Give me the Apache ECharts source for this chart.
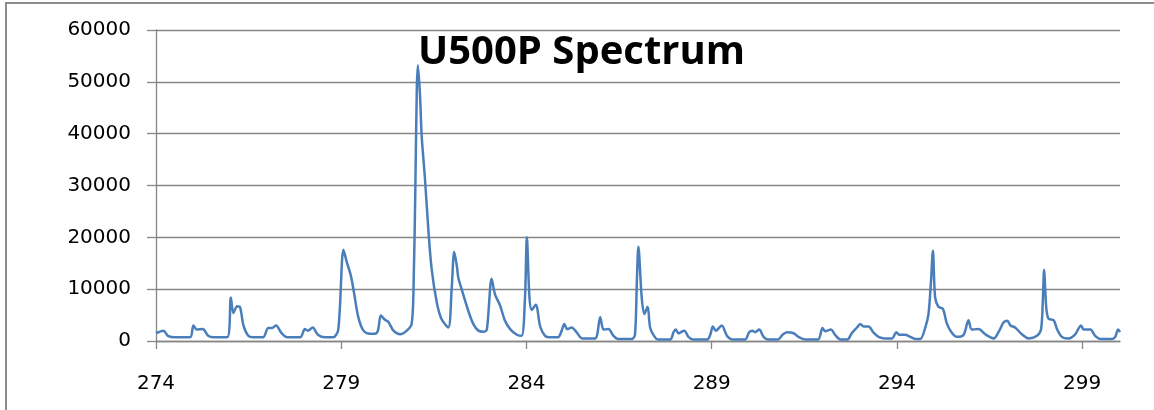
<!DOCTYPE html>
<html>
<head>
<meta charset="utf-8">
<title>U500P Spectrum</title>
<script src="https://cdn.jsdelivr.net/npm/echarts@6/dist/echarts.min.js"></script>
<style>
  html, body { margin: 0; padding: 0; background: #fff; }
  #chart { width: 1154px; height: 410px; }
</style>
</head>
<body>
<div id="chart"></div>
<script>
// Wavelength positions (nm) of the sampled spectrum
const wavelength = [
  274.00, 274.20, 274.32, 274.51, 274.92, 275.01, 275.10, 275.26, 275.41, 275.54,
  275.92, 276.02, 276.09, 276.19, 276.27, 276.36, 276.49, 276.62, 276.89, 277.03,
  277.13, 277.24, 277.39, 277.54, 277.89, 278.02, 278.10, 278.23, 278.37, 278.56,
  278.78, 278.92, 279.06, 279.15, 279.26, 279.35, 279.46, 279.60, 279.78, 279.91,
  279.99, 280.07, 280.18, 280.27, 280.41, 280.59, 280.77, 280.90, 280.95, 281.00,
  281.04, 281.07, 281.13, 281.17, 281.26, 281.35, 281.44, 281.58, 281.71, 281.89,
  281.98, 282.05, 282.12, 282.16, 282.25, 282.43, 282.57, 282.70, 282.84, 282.93,
  283.06, 283.15, 283.29, 283.42, 283.56, 283.74, 283.87, 283.96, 284.01, 284.08,
  284.14, 284.25, 284.37, 284.50, 284.64, 284.85, 284.95, 285.02, 285.10, 285.22,
  285.36, 285.50, 285.85, 285.99, 286.08, 286.21, 286.35, 286.47, 286.85, 286.93,
  286.98, 287.02, 287.11, 287.18, 287.27, 287.34, 287.47, 287.55, 287.88, 287.97,
  288.03, 288.10, 288.26, 288.37, 288.50, 288.88, 288.96, 289.03, 289.11, 289.27,
  289.41, 289.55, 289.90, 290.01, 290.10, 290.17, 290.28, 290.40, 290.52, 290.79,
  290.91, 291.03, 291.21, 291.34, 291.52, 291.87, 291.99, 292.06, 292.22, 292.33,
  292.47, 292.66, 292.78, 292.92, 293.01, 293.10, 293.23, 293.37, 293.50, 293.68,
  293.87, 293.98, 294.07, 294.22, 294.36, 294.49, 294.63, 294.76, 294.85, 294.92,
  294.97, 295.03, 295.12, 295.24, 295.35, 295.48, 295.62, 295.80, 295.93, 296.02,
  296.20, 296.38, 296.61, 296.74, 296.88, 296.98, 297.06, 297.19, 297.37, 297.55,
  297.78, 297.89, 297.94, 297.97, 298.03, 298.09, 298.23, 298.32, 298.45, 298.63,
  298.81, 298.97, 299.04, 299.22, 299.35, 299.49, 299.81, 299.89, 299.97, 300.02
];

// Measured intensity (counts) at each wavelength
const intensity = [
  1500, 2000, 1000, 700, 700, 3000, 2200, 2300, 1000, 700,
  700, 8400, 5400, 6700, 6500, 3000, 1000, 700, 700, 2500,
  2500, 3000, 1500, 700, 700, 2300, 2000, 2600, 1200, 700,
  700, 2200, 17600, 15200, 12600, 9100, 4600, 2000, 1400, 1400,
  2000, 4900, 4100, 3700, 2000, 1300, 2000, 3300, 10000, 29400,
  48800, 53200, 46800, 39700, 31300, 21600, 13900, 7400, 4200, 2600,
  10000, 17200, 14500, 12200, 10000, 5800, 3200, 2000, 1800, 2200,
  12000, 9000, 6800, 3900, 2300, 1200, 1000, 8400, 20000, 8400,
  6000, 7000, 2800, 1000, 700, 700, 2000, 3300, 2300, 2600,
  1600, 500, 500, 4600, 2200, 2300, 1000, 400, 400, 1300,
  11700, 18200, 8400, 5200, 6600, 2500, 700, 300, 300, 1700,
  2200, 1500, 2000, 800, 300, 300, 1200, 2800, 2000, 3000,
  1000, 300, 300, 1700, 2000, 1700, 2200, 800, 300, 300,
  1200, 1700, 1500, 800, 300, 300, 2500, 1900, 2200, 1200,
  300, 300, 1500, 2600, 3300, 2800, 2800, 1600, 800, 500,
  500, 1700, 1200, 1200, 800, 400, 400, 2500, 5200, 11700,
  17400, 8400, 6600, 6200, 3300, 1600, 800, 1200, 4000, 2200,
  2300, 1300, 500, 1700, 3600, 3900, 3000, 2600, 1300, 500,
  1000, 2300, 8400, 13700, 6400, 4300, 4000, 2300, 800, 500,
  1300, 3000, 2200, 2200, 1000, 400, 400, 800, 2200, 1700
];

// Axis tick positions and labels
const xTicks = [274, 279, 284, 289, 294, 299];
const yTicks = [0, 10000, 20000, 30000, 40000, 50000, 60000];

const chartTitle = 'U500P Spectrum';

const seriesData = wavelength.map((w, i) => [w, intensity[i]]);

const axisGrey = '#868686';
const labelFont = 'DejaVu Sans';

const chart = echarts.init(document.getElementById('chart'), null, { renderer: 'canvas' });

chart.setOption({
  backgroundColor: '#ffffff',
  animation: false,
  title: {
    text: chartTitle,
    left: 418,
    top: 33,
    padding: 0,
    textStyle: {
      fontFamily: 'Open Sans',
      fontWeight: 'bold',
      fontSize: 40,
      color: '#000000'
    }
  },
  grid: {
    left: 156,
    right: 34,
    top: 30,
    bottom: 69,
    containLabel: false
  },
  xAxis: {
    type: 'value',
    min: 274,
    max: 300.02,
    interval: 5,
    axisLine: { show: true, lineStyle: { color: axisGrey, width: 1.3 } },
    axisTick: {
      show: true,
      length: 8,
      inside: false,
      customValues: xTicks,
      lineStyle: { color: axisGrey, width: 1.3 }
    },
    axisLabel: {
      customValues: xTicks,
      margin: 33,
      fontFamily: labelFont,
      fontSize: 20,
      color: '#000000',
      formatter: (v) => String(v)
    },
    splitLine: { show: false }
  },
  yAxis: {
    type: 'value',
    min: 0,
    max: 60000,
    interval: 10000,
    axisLine: { show: true, lineStyle: { color: axisGrey, width: 1.3 } },
    axisTick: {
      show: true,
      length: 9,
      inside: false,
      customValues: yTicks,
      lineStyle: { color: axisGrey, width: 1.3 }
    },
    axisLabel: {
      customValues: yTicks,
      margin: 25,
      fontFamily: labelFont,
      fontSize: 20,
      color: '#000000',
      formatter: (v) => String(v)
    },
    splitLine: { show: true, lineStyle: { color: axisGrey, width: 1.3 } }
  },
  graphic: [
    {
      type: 'polyline',
      silent: true,
      shape: { points: [[6, 410], [6, 3], [1154, 3]] },
      style: { stroke: '#8c8c8c', lineWidth: 2, fill: null }
    }
  ],
  series: [
    {
      type: 'line',
      data: seriesData,
      smooth: 0.3,
      showSymbol: false,
      symbol: 'none',
      lineStyle: { color: '#4a7ebb', width: 2.5 },
      clip: true
    }
  ]
});
</script>
</body>
</html>
